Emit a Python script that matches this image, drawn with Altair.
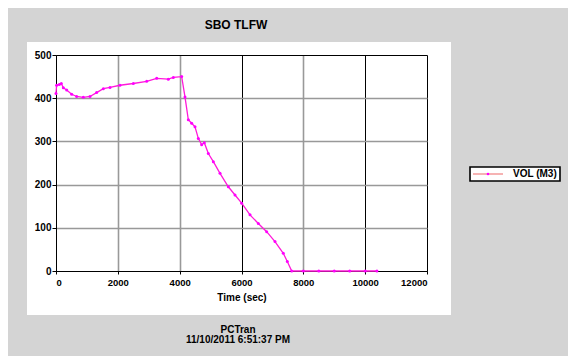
import altair as alt
import pandas as pd

# ---- data ----
time_sec = [0, 20, 108, 172, 237, 345, 507, 668, 884, 1100, 1315, 1531, 1747, 2070,
            2501, 2933, 3256, 3633, 3795, 4065, 4172, 4280, 4388, 4496, 4603, 4711,
            4797, 4927, 5089, 5305, 5574, 5790, 6006, 6275, 6544, 6814, 7083, 7352,
            7481, 7624, 8000, 8500, 9000, 9500, 10000, 10380]
vol_m3 = [411, 430, 432, 434, 424, 419, 409, 404, 402, 404, 413, 422, 425, 430,
          434, 439, 446, 444, 448, 450, 403, 350, 342, 334, 307, 292,
          297, 272, 253, 226, 195, 176, 157, 130, 110, 91, 68, 41,
          22, 0, 0, 0, 0, 0, 0, 0]
x_ticks = list(range(0, 13000, 1000))
y_ticks = list(range(0, 550, 50))

title_text = "SBO TLFW"
footer_1 = "PCTran"
footer_2 = "11/10/2011 6:51:37 PM"
legend_label = "VOL (M3)"
x_title = "Time (sec)"

df = pd.DataFrame({"Time": time_sec, "VOL": vol_m3})
dummy = pd.DataFrame({"a": [0]})

FONT = "Liberation Sans"
GRAY = "#d4d4d4"
GRID_GRAY = "#999999"

x_enc = alt.X(
    "Time:Q",
    scale=alt.Scale(domain=[0, 12000], nice=False, zero=False),
    axis=alt.Axis(
        values=x_ticks,
        format="d",
        labelExpr="datum.value % 2000 === 0 ? datum.label : ''",
        title=x_title,
        titleFont=FONT, titleFontSize=10, titleFontWeight="bold", titleColor="black",
        titlePadding=6,
        labelFont=FONT, labelFontSize=9.5, labelFontWeight="bold", labelColor="black",
        labelPadding=3, tickSize=3, tickColor="black",
        domainColor="black", domainWidth=1,
        gridOpacity=alt.condition("datum.value % 2000 === 0", alt.value(1), alt.value(0)),
        gridColor=alt.condition("datum.value == 2000 || datum.value == 4000 || datum.value == 8000",
                                alt.value(GRID_GRAY), alt.value("#000000")),
        gridWidth=alt.condition("datum.value == 2000 || datum.value == 4000 || datum.value == 8000",
                                alt.value(1.6), alt.value(1)),
    ),
)
y_enc = alt.Y(
    "VOL:Q",
    scale=alt.Scale(domain=[0, 500], nice=False),
    axis=alt.Axis(
        values=y_ticks,
        format="d",
        labelExpr="datum.value % 100 === 0 ? datum.label : ''",
        title=None,
        labelFont=FONT, labelFontSize=10, labelFontWeight="bold", labelColor="black",
        labelPadding=1, tickSize=4, tickColor="black",
        domainColor="black", domainWidth=1,
        gridColor=alt.condition("datum.value % 100 === 0 && datum.value != 500 && datum.value != 0",
                                alt.value(GRID_GRAY), alt.value("#000000")),
        gridWidth=alt.condition("datum.value % 100 === 0 && datum.value != 500 && datum.value != 0",
                                alt.value(1.6), alt.value(1)),
    ),
)

line = alt.Chart(df).mark_line(color="#ff1ad9", strokeWidth=1.3).encode(x=x_enc, y=y_enc)
pts = alt.Chart(df).mark_point(filled=True, size=9, color="#ff00ff", opacity=1).encode(
    x="Time:Q", y="VOL:Q")


def band(x, x2, y, y2, fill, stroke=None, sw=0):
    kw = dict(fill=fill)
    if stroke:
        kw.update(stroke=stroke, strokeWidth=sw)
    return alt.Chart(dummy).mark_rect(**kw).encode(
        x=alt.value(x), x2=alt.value(x2), y=alt.value(y), y2=alt.value(y2))


def label(txt, x, y, size=10, align="center"):
    return alt.Chart(dummy).mark_text(
        text=txt, font=FONT, fontSize=size, fontWeight="bold", color="black",
        align=align, baseline="middle").encode(x=alt.value(x), y=alt.value(y))


# grey window frame around the white plotting panel
top_band = band(-48, 512, -47, -13, GRAY)
bottom_band = band(-48, 512, 260, 301, GRAY)
left_band = band(-48, -29, -13, 260, GRAY)
right_band = band(395, 512, -13, 260, GRAY)

# legend (drawn by hand in the grey area)
leg_box = band(414, 504, 112, 126, "white", "black", 1.6)
leg_line = alt.Chart(dummy).mark_rule(color="#f08080", strokeWidth=1.2).encode(
    x=alt.value(417), x2=alt.value(447), y=alt.value(119))
leg_pt = alt.Chart(dummy).mark_point(filled=True, size=7, color="#ff00ff", opacity=1).encode(
    x=alt.value(432), y=alt.value(119))
leg_txt = label(legend_label, 457, 119, 10, "left")

title = label(title_text, 180, -30, 12)
foot1 = label(footer_1, 182, 274.5, 10)
foot2 = label(footer_2, 182, 285, 10)

chart = alt.layer(
    line, pts,
    top_band, bottom_band, left_band, right_band,
    leg_box, leg_line, leg_pt, leg_txt,
    title, foot1, foot2,
).properties(
    width=371, height=216,
    autosize=alt.AutoSizeParams(type="none"),
    padding={"left": 48, "top": 47, "right": 141, "bottom": 85},
    background="white",
).configure_view(stroke=None)

chart.save("out.html", embed_options={"renderer": "svg", "actions": False})
